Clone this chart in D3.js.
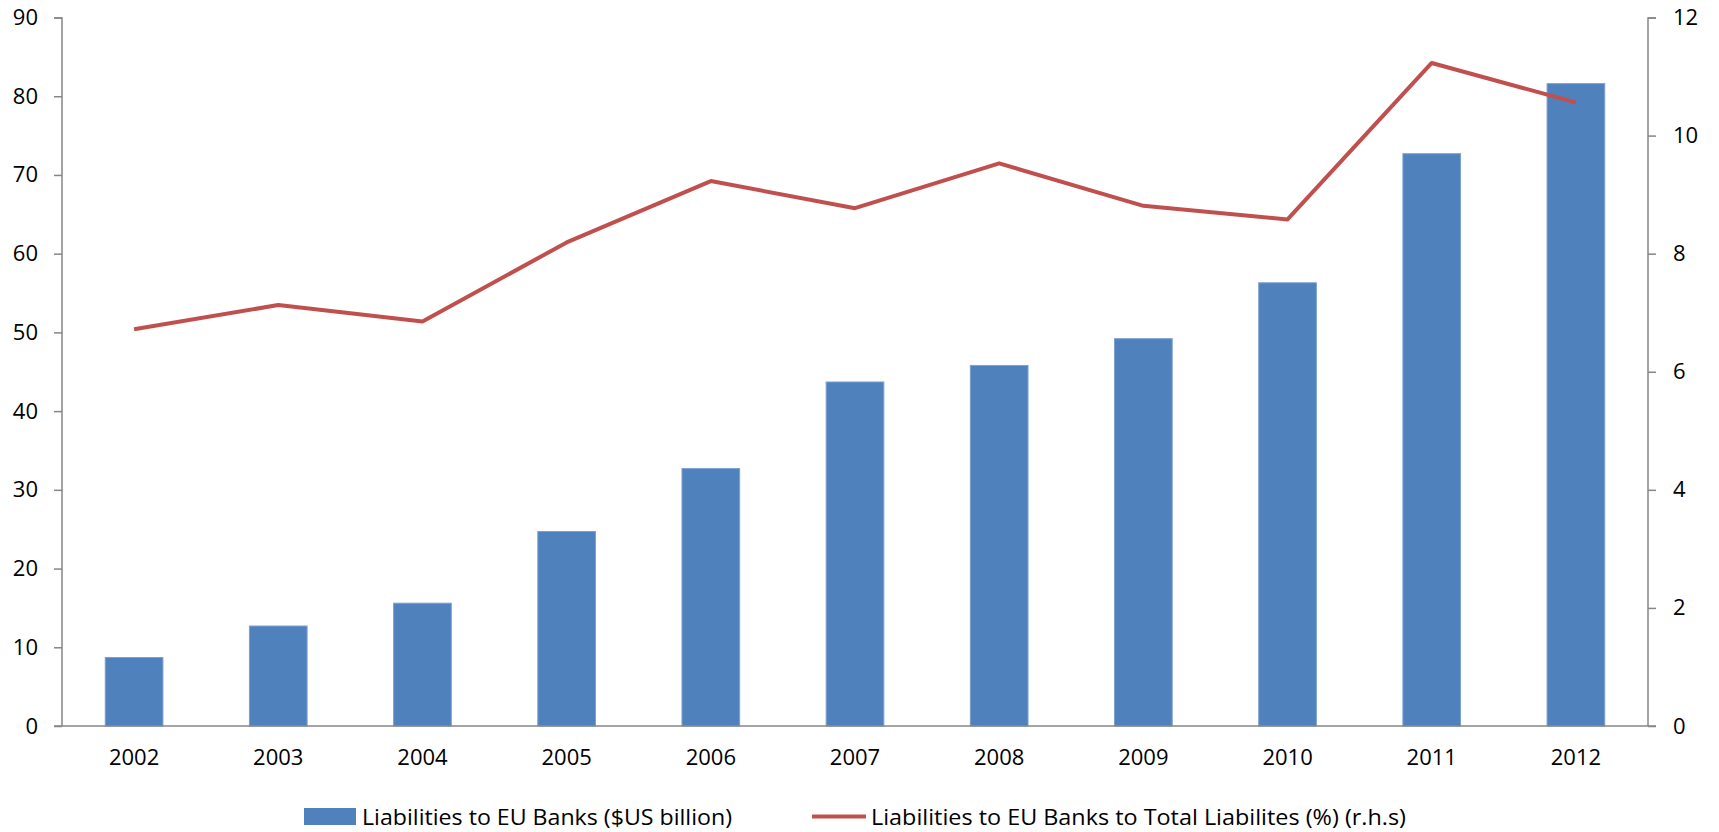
<!DOCTYPE html>
<html>
<head>
<meta charset="utf-8">
<script src="https://cdn.jsdelivr.net/npm/d3@7"></script>
<style>
  body { margin: 0; background: #fff; }
  text { font-family: "Open Sans", "Noto Sans", sans-serif; fill: #000; }
</style>
</head>
<body>
<div id="chart"></div>
<script>
// data
let years = ["2002", "2003", "2004", "2005", "2006", "2007", "2008", "2009", "2010", "2011", "2012"];
let liabilities = [8.7, 12.7, 15.6, 24.7, 32.7, 43.7, 45.8, 49.2, 56.3, 72.7, 81.6];
let shareOfTotal = [6.72, 7.13, 6.85, 8.19, 9.23, 8.77, 9.53, 8.81, 8.58, 11.23, 10.56];
let leftTicks = [0, 10, 20, 30, 40, 50, 60, 70, 80, 90];
let rightTicks = [0, 2, 4, 6, 8, 10, 12];
let legendLabels = ["Liabilities to EU Banks ($US billion)", "Liabilities to EU Banks to Total Liabilites (%) (r.h.s)"];

let W = 1719, H = 832;
let margin = { top: 17.5, right: 71, bottom: 106, left: 62 },
    width = W - margin.left - margin.right,
    height = H - margin.top - margin.bottom;

let svg = d3.select("#chart")
    .append("svg")
    .attr("width", W)
    .attr("height", H);

let g = svg.append("g")
    .attr("transform", "translate(" + margin.left + "," + margin.top + ")");

let x = d3.scaleBand()
    .domain(years)
    .range([0, width])
    .paddingInner(0.6)
    .paddingOuter(0.3);

let y = d3.scaleLinear().domain([0, 90]).range([height, 0]);
let y2 = d3.scaleLinear().domain([0, 12]).range([height, 0]);

let axisColor = "#868686";

// bars
g.append("g")
    .selectAll("rect")
    .data(liabilities)
    .enter()
    .append("rect")
    .attr("x", function (d, i) { return x(years[i]); })
    .attr("y", function (d) { return y(d); })
    .attr("width", x.bandwidth())
    .attr("height", function (d) { return height - y(d); })
    .style("fill", "#4F81BD")
    .style("stroke", "#7BA0CF")
    .style("stroke-width", 1);

// left axis
let leftAxis = g.append("g")
    .call(d3.axisLeft(y).tickValues(leftTicks).tickSize(8).tickPadding(16));
// right axis
let rightAxis = g.append("g")
    .attr("transform", "translate(" + width + ",0)")
    .call(d3.axisRight(y2).tickValues(rightTicks).tickSize(8).tickPadding(17));

[leftAxis, rightAxis].forEach(function (a) {
    a.select(".domain").attr("stroke", axisColor).attr("stroke-width", 1.5)
        .attr("d", a === leftAxis ? "M-8,0.5H0V" + height : "M8,0.5H0V" + height);
    a.selectAll(".tick line").attr("stroke", axisColor).attr("stroke-width", 1.5);
    a.selectAll(".tick text").style("font-size", "22px").attr("fill", "#000");
});

// bottom axis (no ticks)
let bottomAxis = g.append("g")
    .attr("transform", "translate(0," + height + ")")
    .call(d3.axisBottom(x).tickSize(0).tickPadding(23));
bottomAxis.select(".domain").attr("stroke", axisColor).attr("stroke-width", 1.5)
    .attr("d", "M-8,0H" + (width + 8));
bottomAxis.selectAll(".tick text").style("font-size", "22px").attr("fill", "#000");

// line
let line = d3.line()
    .x(function (d, i) { return x(years[i]) + x.bandwidth() / 2; })
    .y(function (d) { return y2(d); });

g.append("path")
    .datum(shareOfTotal)
    .attr("d", line)
    .style("fill", "none")
    .style("stroke", "#C0504D")
    .style("stroke-width", 4)
    .style("stroke-linejoin", "round");

// legend
let legend = svg.append("g");
legend.append("rect")
    .attr("x", 304).attr("y", 808)
    .attr("width", 52).attr("height", 17)
    .style("fill", "#4F81BD");
legend.append("text")
    .attr("x", 362).attr("y", 825)
    .attr("textLength", 370).attr("lengthAdjust", "spacingAndGlyphs")
    .style("font-size", "22px")
    .text(legendLabels[0]);
legend.append("line")
    .attr("x1", 812).attr("x2", 866)
    .attr("y1", 816.5).attr("y2", 816.5)
    .style("stroke", "#C0504D")
    .style("stroke-width", 4);
legend.append("text")
    .attr("x", 871).attr("y", 825)
    .attr("textLength", 535).attr("lengthAdjust", "spacingAndGlyphs")
    .style("font-size", "22px")
    .text(legendLabels[1]);
</script>
</body>
</html>
